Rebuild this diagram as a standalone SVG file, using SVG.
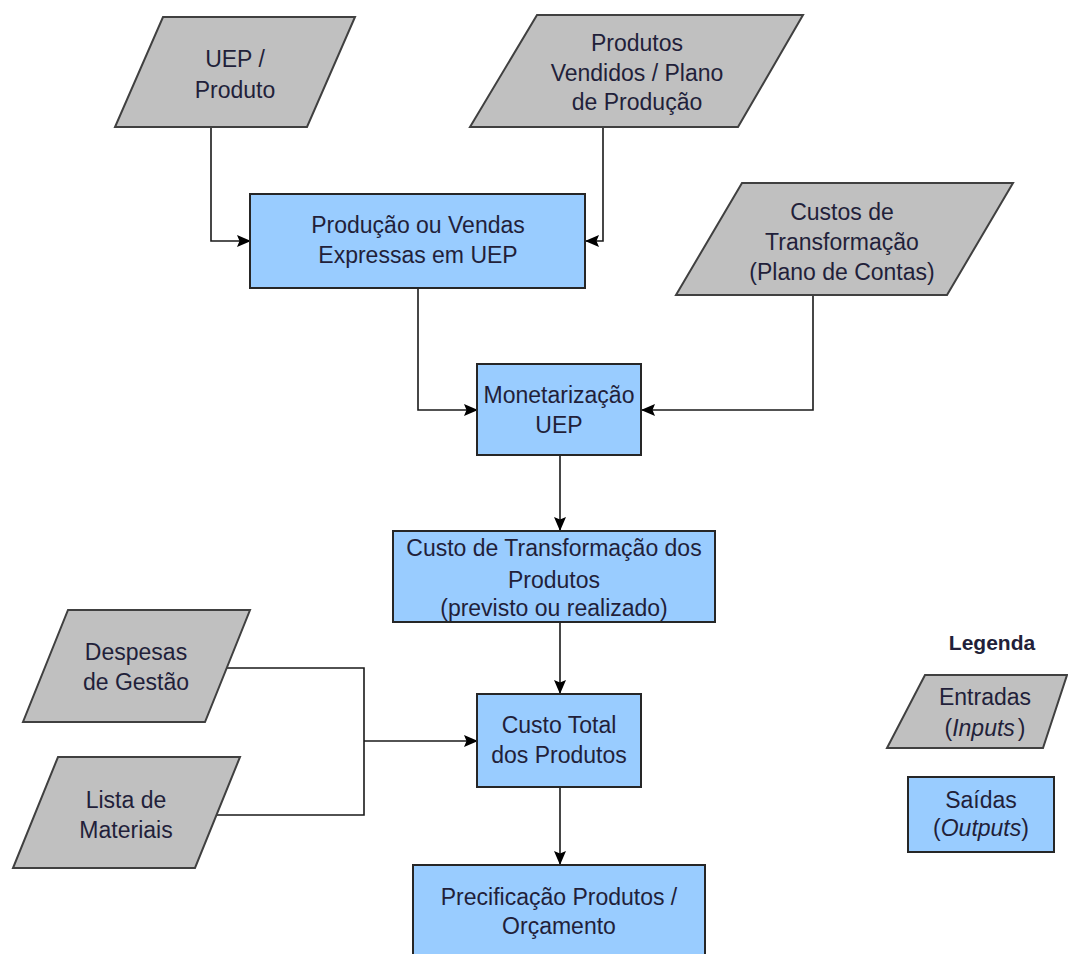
<svg xmlns="http://www.w3.org/2000/svg" width="1068" height="954" viewBox="0 0 1068 954">
  <defs>
    <style>
      .in { fill: #c0c0c0; stroke: #404040; stroke-width: 2; stroke-linejoin: miter; }
      .out { fill: #99ccff; stroke: #262626; stroke-width: 2; }
      .t { font-family: "Liberation Sans", Arial, sans-serif; font-size: 23px; fill: #221f3a; text-anchor: middle; }
      .b { font-weight: bold; }
      .i { font-style: italic; }
      .c { fill: none; stroke: #1a1a1a; stroke-width: 1.6; }
    </style>
    <marker id="arr" markerWidth="14" markerHeight="14" refX="13" refY="7" orient="auto" markerUnits="userSpaceOnUse">
      <path d="M0,1 L14,7 L0,13 L2.5,7 Z" fill="#000"/>
    </marker>
  </defs>
  <rect width="1068" height="954" fill="#ffffff"/>

  <!-- connectors -->
  <g id="connectors">
    <path class="c" d="M211,128 V241 H250" marker-end="url(#arr)"/>
    <path class="c" d="M603,127 V241 H586" marker-end="url(#arr)"/>
    <path class="c" d="M418,288 V410 H477" marker-end="url(#arr)"/>
    <path class="c" d="M813,295 V410 H642" marker-end="url(#arr)"/>
    <path class="c" d="M560,456 V530" marker-end="url(#arr)"/>
    <path class="c" d="M560,622 V693" marker-end="url(#arr)"/>
    <path class="c" d="M227,668 H364 V815 H217"/>
    <path class="c" d="M364,741 H477" marker-end="url(#arr)"/>
    <path class="c" d="M560,788 V864" marker-end="url(#arr)"/>
  </g>

  <!-- inputs -->
  <g id="uep-produto">
    <polygon class="in" points="163,17 355,17 307,127 115,127"/>
    <text class="t" x="235" y="67">UEP /</text>
    <text class="t" x="235" y="98">Produto</text>
  </g>
  <g id="produtos-vendidos">
    <polygon class="in" points="537,15 803,15 738,127 470,127"/>
    <text class="t" x="637" y="51">Produtos</text>
    <text class="t" x="637" y="81">Vendidos / Plano</text>
    <text class="t" x="637" y="110">de Produção</text>
  </g>
  <g id="custos-transformacao">
    <polygon class="in" points="742,183 1013,183 947,295 676,295"/>
    <text class="t" x="842" y="220">Custos de</text>
    <text class="t" x="842" y="250">Transformação</text>
    <text class="t" x="842" y="280">(Plano de Contas)</text>
  </g>
  <g id="despesas-gestao">
    <polygon class="in" points="68,610 250,610 205,722 23,722"/>
    <text class="t" x="136" y="660">Despesas</text>
    <text class="t" x="136" y="690">de Gestão</text>
  </g>
  <g id="lista-materiais">
    <polygon class="in" points="58,757 240,757 195,868 13,868"/>
    <text class="t" x="126" y="808">Lista de</text>
    <text class="t" x="126" y="838">Materiais</text>
  </g>

  <!-- outputs -->
  <g id="producao-vendas">
    <rect class="out" x="250" y="194" width="335" height="94"/>
    <text class="t" x="418" y="233">Produção ou Vendas</text>
    <text class="t" x="418" y="263">Expressas em UEP</text>
  </g>
  <g id="monetarizacao">
    <rect class="out" x="477" y="364" width="164" height="91"/>
    <text class="t" x="559" y="403">Monetarização</text>
    <text class="t" x="559" y="433">UEP</text>
  </g>
  <g id="custo-transformacao-produtos">
    <rect class="out" x="393" y="531" width="322" height="91"/>
    <text class="t" x="554" y="556">Custo de Transformação dos</text>
    <text class="t" x="554" y="588">Produtos</text>
    <text class="t" x="554" y="616">(previsto ou realizado)</text>
  </g>
  <g id="custo-total">
    <rect class="out" x="477" y="694" width="164" height="93"/>
    <text class="t" x="559" y="733">Custo Total</text>
    <text class="t" x="559" y="763">dos Produtos</text>
  </g>
  <g id="precificacao">
    <rect class="out" x="413" y="865" width="292" height="95"/>
    <text class="t" x="559" y="905">Precificação Produtos /</text>
    <text class="t" x="559" y="934">Orçamento</text>
  </g>

  <!-- legend -->
  <g id="legenda">
    <text class="t b" x="992" y="650" style="font-size:21px">Legenda</text>
    <polygon class="in" points="925,675 1067,675 1043,748 887,748"/>
    <text class="t" x="985" y="705">Entradas</text>
    <text class="t" x="985" y="736">(<tspan class="i">Inputs</tspan><tspan dx="3">)</tspan></text>
    <rect class="out" x="908" y="777" width="146" height="75"/>
    <text class="t" x="981" y="808">Saídas</text>
    <text class="t" x="981" y="836">(<tspan class="i">Outputs</tspan>)</text>
  </g>
</svg>
